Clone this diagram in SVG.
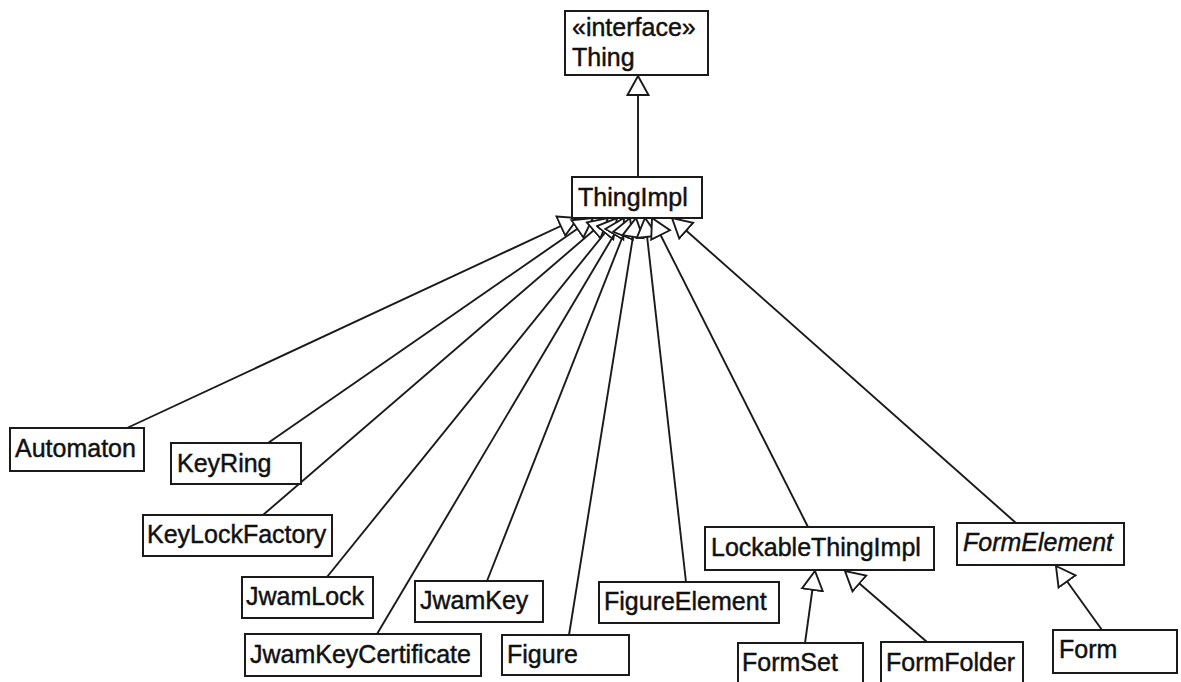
<svg xmlns="http://www.w3.org/2000/svg" width="1181" height="682" viewBox="0 0 1181 682">
  <style>
    .box { fill: #ffffff; stroke: #1a1a1a; stroke-width: 2; }
    .lbl { font-family: "Liberation Sans", Arial, sans-serif; font-size: 25px; fill: #111111; stroke: #111111; stroke-width: 0.45; }
    .abstract { font-style: italic; }
    .edge { stroke: #1a1a1a; stroke-width: 1.9; fill: none; marker-end: url(#gen); }
  </style>
  <defs>
    <!-- hollow triangle: UML generalization head -->
    <marker id="gen" viewBox="0 0 22 24" refX="20" refY="12" markerWidth="22" markerHeight="24" markerUnits="userSpaceOnUse" orient="auto">
      <path d="M1,1.5 L20,12 L1,22.5 Z" fill="#ffffff" stroke="#1a1a1a" stroke-width="1.9" stroke-linejoin="miter"/>
    </marker>
  </defs>
  <rect width="1181" height="682" fill="#ffffff"/>

  <g id="connectors">
    <line class="edge" x1="638" y1="177" x2="638" y2="76"/>
    <line class="edge" x1="127" y1="428" x2="578" y2="218"/>
    <line class="edge" x1="268" y1="443" x2="593" y2="218"/>
    <line class="edge" x1="263" y1="515" x2="608" y2="218"/>
    <line class="edge" x1="327" y1="577" x2="617" y2="218"/>
    <line class="edge" x1="377" y1="634" x2="624" y2="218"/>
    <line class="edge" x1="487" y1="581" x2="630" y2="218"/>
    <line class="edge" x1="569" y1="635" x2="636" y2="218"/>
    <line class="edge" x1="686" y1="582" x2="645" y2="218"/>
    <line class="edge" x1="808" y1="527" x2="652" y2="218"/>
    <line class="edge" x1="1016" y1="523" x2="672" y2="218"/>
    <line class="edge" x1="805" y1="643" x2="815" y2="571"/>
    <line class="edge" x1="927" y1="642" x2="845" y2="571"/>
    <line class="edge" x1="1102" y1="630" x2="1056" y2="566"/>
  </g>

  <g id="Thing">
    <rect class="box" x="565" y="11" width="143" height="64"/>
    <text class="lbl" x="572" y="36">«interface»</text>
    <text class="lbl" x="572" y="66">Thing</text>
  </g>
  <g id="ThingImpl">
    <rect class="box" x="572" y="177" width="130" height="41"/>
    <text class="lbl" x="578" y="206">ThingImpl</text>
  </g>
  <g id="Automaton">
    <rect class="box" x="10" y="428" width="134" height="43"/>
    <text class="lbl" x="15" y="457">Automaton</text>
  </g>
  <g id="KeyRing">
    <rect class="box" x="171" y="443" width="130" height="41"/>
    <text class="lbl" x="177" y="472">KeyRing</text>
  </g>
  <g id="KeyLockFactory">
    <rect class="box" x="143" y="515" width="189" height="41"/>
    <text class="lbl" x="147" y="543">KeyLockFactory</text>
  </g>
  <g id="JwamLock">
    <rect class="box" x="242" y="577" width="131" height="41"/>
    <text class="lbl" x="246" y="605">JwamLock</text>
  </g>
  <g id="JwamKeyCertificate">
    <rect class="box" x="245" y="634" width="236" height="42"/>
    <text class="lbl" x="250" y="663">JwamKeyCertificate</text>
  </g>
  <g id="JwamKey">
    <rect class="box" x="415" y="581" width="128" height="41"/>
    <text class="lbl" x="420" y="609">JwamKey</text>
  </g>
  <g id="Figure">
    <rect class="box" x="502" y="635" width="127" height="40"/>
    <text class="lbl" x="507" y="663">Figure</text>
  </g>
  <g id="FigureElement">
    <rect class="box" x="599" y="582" width="180" height="41"/>
    <text class="lbl" x="604" y="610">FigureElement</text>
  </g>
  <g id="LockableThingImpl">
    <rect class="box" x="705" y="527" width="229" height="43"/>
    <text class="lbl" x="711" y="556">LockableThingImpl</text>
  </g>
  <g id="FormElement">
    <rect class="box" x="957" y="523" width="167" height="42"/>
    <text class="lbl abstract" x="963" y="551">FormElement</text>
  </g>
  <g id="FormSet">
    <rect class="box" x="738" y="643" width="125" height="44"/>
    <text class="lbl" x="742" y="671">FormSet</text>
  </g>
  <g id="FormFolder">
    <rect class="box" x="881" y="642" width="142" height="44"/>
    <text class="lbl" x="886" y="671">FormFolder</text>
  </g>
  <g id="Form">
    <rect class="box" x="1053" y="630" width="124" height="43"/>
    <text class="lbl" x="1059" y="658">Form</text>
  </g>
</svg>
